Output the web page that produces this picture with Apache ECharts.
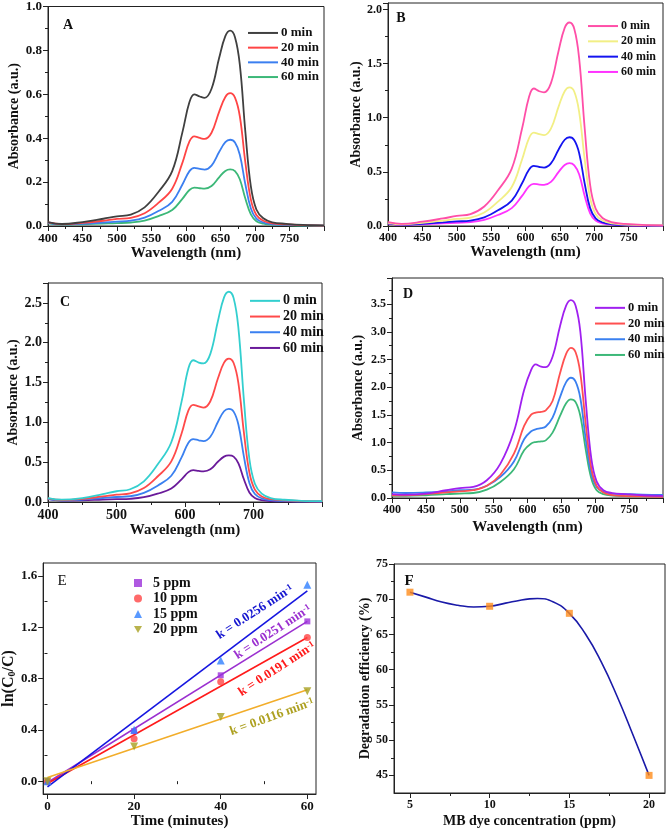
<!DOCTYPE html>
<html>
<head>
<meta charset="utf-8">
<script src="https://cdn.jsdelivr.net/npm/echarts@6/dist/echarts.min.js"></script>
<style>html,body{margin:0;padding:0;background:#fff}#c{width:666px;height:830px}</style>
</head>
<body>
<div id="c"></div>
<script>
// ---------- DATA ----------
const WL = [400, 420, 450, 480, 500, 520, 540, 560, 580, 595, 605, 612, 620, 627, 637, 648, 657, 664, 671, 678, 686, 694, 702, 712, 725, 745, 770, 800];
const TIMES = ['0 min', '20 min', '40 min', '60 min'];

const A_0  = [0.018, 0.009, 0.018, 0.033, 0.044, 0.052, 0.085, 0.155, 0.25, 0.43, 0.565, 0.600, 0.590, 0.584, 0.625, 0.765, 0.865, 0.890, 0.860, 0.735, 0.43, 0.18, 0.075, 0.035, 0.017, 0.010, 0.005, 0.003];
const A_20 = [0.016, 0.008, 0.014, 0.024, 0.032, 0.037, 0.058, 0.105, 0.17, 0.29, 0.385, 0.408, 0.401, 0.397, 0.425, 0.52, 0.588, 0.605, 0.585, 0.50, 0.29, 0.12, 0.05, 0.024, 0.012, 0.007, 0.004, 0.002];
const A_40 = [0.014, 0.007, 0.010, 0.016, 0.020, 0.024, 0.038, 0.068, 0.11, 0.19, 0.25, 0.265, 0.26, 0.257, 0.275, 0.337, 0.382, 0.393, 0.38, 0.325, 0.19, 0.08, 0.034, 0.016, 0.008, 0.005, 0.003, 0.002];
const A_60 = [0.012, 0.006, 0.008, 0.011, 0.013, 0.016, 0.025, 0.045, 0.073, 0.125, 0.164, 0.175, 0.172, 0.17, 0.182, 0.222, 0.251, 0.258, 0.25, 0.213, 0.125, 0.053, 0.022, 0.011, 0.006, 0.004, 0.002, 0.001];

const B_0  = [0.035, 0.02, 0.04, 0.07, 0.093, 0.11, 0.18, 0.33, 0.53, 0.9, 1.19, 1.27, 1.245, 1.235, 1.32, 1.615, 1.83, 1.88, 1.82, 1.55, 0.91, 0.38, 0.16, 0.074, 0.036, 0.02, 0.01, 0.006];
const B_20 = [0.03, 0.016, 0.03, 0.05, 0.065, 0.077, 0.124, 0.225, 0.36, 0.615, 0.81, 0.862, 0.848, 0.84, 0.9, 1.1, 1.245, 1.28, 1.24, 1.055, 0.62, 0.26, 0.11, 0.05, 0.025, 0.014, 0.008, 0.005];
const B_40 = [0.025, 0.013, 0.02, 0.033, 0.042, 0.05, 0.08, 0.145, 0.235, 0.395, 0.52, 0.555, 0.545, 0.54, 0.578, 0.705, 0.797, 0.82, 0.793, 0.675, 0.395, 0.165, 0.07, 0.033, 0.016, 0.009, 0.005, 0.003];
const B_60 = [0.022, 0.011, 0.016, 0.024, 0.03, 0.035, 0.056, 0.102, 0.165, 0.278, 0.366, 0.39, 0.383, 0.38, 0.407, 0.498, 0.563, 0.58, 0.56, 0.478, 0.28, 0.117, 0.05, 0.024, 0.012, 0.007, 0.004, 0.002];

const C_0  = [0.05, 0.03, 0.05, 0.1, 0.135, 0.16, 0.26, 0.47, 0.75, 1.26, 1.68, 1.78, 1.75, 1.74, 1.86, 2.27, 2.57, 2.64, 2.56, 2.18, 1.28, 0.54, 0.23, 0.105, 0.05, 0.028, 0.015, 0.01];
const C_20 = [0.045, 0.025, 0.04, 0.07, 0.092, 0.108, 0.175, 0.32, 0.51, 0.86, 1.15, 1.22, 1.2, 1.185, 1.265, 1.55, 1.75, 1.80, 1.745, 1.49, 0.87, 0.37, 0.155, 0.07, 0.035, 0.02, 0.012, 0.008];
const C_40 = [0.04, 0.02, 0.03, 0.05, 0.063, 0.072, 0.115, 0.205, 0.33, 0.56, 0.745, 0.79, 0.775, 0.765, 0.82, 1.005, 1.14, 1.17, 1.135, 0.97, 0.57, 0.24, 0.1, 0.046, 0.023, 0.013, 0.008, 0.005];
const C_60 = [0.035, 0.018, 0.02, 0.03, 0.035, 0.04, 0.06, 0.105, 0.17, 0.285, 0.375, 0.4, 0.39, 0.385, 0.41, 0.505, 0.57, 0.585, 0.57, 0.485, 0.285, 0.12, 0.05, 0.024, 0.012, 0.007, 0.004, 0.003];

const D_0  = [0.07, 0.06, 0.08, 0.14, 0.18, 0.20, 0.32, 0.62, 1.2, 1.95, 2.3, 2.41, 2.37, 2.36, 2.55, 3.10, 3.47, 3.57, 3.47, 3.00, 1.75, 0.73, 0.30, 0.14, 0.09, 0.07, 0.05, 0.04];
const D_20 = [0.05, 0.05, 0.07, 0.10, 0.12, 0.14, 0.22, 0.42, 0.80, 1.30, 1.50, 1.54, 1.555, 1.58, 1.75, 2.25, 2.60, 2.71, 2.63, 2.25, 1.33, 0.55, 0.22, 0.10, 0.05, 0.035, 0.03, 0.02];
const D_40 = [0.10, 0.09, 0.10, 0.12, 0.14, 0.15, 0.22, 0.38, 0.66, 1.06, 1.20, 1.24, 1.26, 1.29, 1.45, 1.82, 2.09, 2.17, 2.10, 1.80, 1.06, 0.45, 0.20, 0.11, 0.08, 0.07, 0.06, 0.055];
const D_60 = [0.04, 0.04, 0.05, 0.07, 0.08, 0.09, 0.15, 0.29, 0.52, 0.86, 0.98, 1.01, 1.02, 1.04, 1.18, 1.48, 1.71, 1.78, 1.73, 1.48, 0.87, 0.36, 0.14, 0.07, 0.045, 0.035, 0.03, 0.03];

const E_TIME = [0, 20, 40, 60];
const E_5PPM  = [0.0, 0.39, 0.825, 1.245];
const E_10PPM = [-0.005, 0.33, 0.775, 1.12];
const E_15PPM = [0.0, 0.40, 0.94, 1.53];
const E_20PPM = [0.0, 0.27, 0.50, 0.70];
const E_FIT_X = [0, 60];
const E_FIT_5  = [-0.01, 1.245];
const E_FIT_10 = [-0.018, 1.12];
const E_FIT_15 = [-0.045, 1.483];
const E_FIT_20 = [0.028, 0.712];
const E_LABELS = ['k = 0.0256 min', 'k = 0.0251 min', 'k = 0.0191 min', 'k = 0.0116 min'];

const F_CONC = [5, 10, 15, 20];
const F_EFF = [71, 69, 68, 45];
const F_CURVE_X = [5, 6, 7, 8, 9, 10, 11, 12, 12.5, 13, 14, 15, 16, 17, 18, 19, 20];
const F_CURVE_Y = [71, 70.3, 69.6, 69.15, 68.9, 69.0, 69.45, 69.9, 70.05, 70.1, 69.6, 68.0, 65.1, 61.1, 56.2, 50.7, 45];

// ---------- HELPERS ----------
const FONT = 'Liberation Serif';
function isObj(o){return o && typeof o === 'object' && !Array.isArray(o);}
function merge(a, b){
  const r = Object.assign({}, a);
  for (const k in b) {
    if (isObj(b[k]) && isObj(a[k])) r[k] = merge(a[k], b[k]); else r[k] = b[k];
  }
  return r;
}
function pairs(xs, ys){ return xs.map((x,i)=>[x, ys[i]]); }
const AX = {
  type: 'value',
  axisLine: {show: true, onZero: false, lineStyle: {color: '#222', width: 1}},
  axisTick: {show: true, inside: false, length: 5, lineStyle: {color: '#222', width: 1}},
  minorTick: {show: true, splitNumber: 2, length: 3, lineStyle: {color: '#222', width: 1}},
  splitLine: {show: false},
  minorSplitLine: {show: false},
  axisLabel: {color: '#111', fontFamily: FONT, fontWeight: 'bold', fontSize: 13, margin: 6},
  nameLocation: 'middle',
  nameTextStyle: {color: '#111', fontFamily: FONT, fontWeight: 'bold', fontSize: 15}
};
function ax(o){ return merge(AX, o); }
function minorAx(o){
  return merge({type:'value', axisLine:{show:false}, axisLabel:{show:false}, splitLine:{show:false},
    minorTick:{show:false}, axisTick:{show:true, inside:false, length:3, lineStyle:{color:'#222', width:1}}}, o);
}
function fmtStep(step, maxLab, dec){
  return function(v){
    const q = v/step;
    if (Math.abs(q - Math.round(q)) > 1e-6 || v > maxLab + 1e-9) return '';
    return dec ? v.toFixed(dec) : String(Math.round(v));
  };
}

const grids = [
  {left: 48, top: 4, width: 276, height: 222},
  {left: 388, top: 3, width: 276, height: 223},
  {left: 48, top: 283, width: 274, height: 219},
  {left: 392, top: 278, width: 273, height: 220},
  {left: 42, top: 563, width: 274, height: 231},
  {left: 394, top: 564, width: 271, height: 229}
].map(g => Object.assign({show: true, borderColor: '#222', borderWidth: 1, backgroundColor: 'transparent'}, g));

const xAxes = [
  ax({gridIndex:0, min:400, max:800, interval:50, name:'Wavelength (nm)', nameGap:17,
      axisLabel:{fontSize:13, formatter: fmtStep(50, 750, 0)}}),
  ax({gridIndex:1, min:400, max:800, interval:50, name:'Wavelength (nm)', nameGap:18,
      axisLabel:{fontSize:12, formatter: fmtStep(50, 750, 0)}}),
  ax({gridIndex:2, min:400, max:800, interval:100, name:'Wavelength (nm)', nameGap:20,
      axisLabel:{fontSize:14, formatter: fmtStep(100, 700, 0)}}),
  ax({gridIndex:3, min:400, max:800, interval:50, name:'Wavelength (nm)', nameGap:22,
      axisLabel:{fontSize:12, formatter: fmtStep(50, 750, 0)}}),
  ax({gridIndex:4, min:-1, max:62, name:'Time (minutes)', nameGap:20, minorTick:{show:false},
      axisTick:{customValues:[0,20,40,60]}, axisLabel:{fontSize:13, customValues:[0,20,40,60]}}),
  ax({gridIndex:5, min:4, max:21, name:'MB dye concentration (ppm)', nameGap:21, minorTick:{show:false},
      axisTick:{customValues:[5,10,15,20]}, axisLabel:{fontSize:12, customValues:[5,10,15,20]},
      nameTextStyle:{fontSize:14}}),
  minorAx({gridIndex:4, position:'bottom', min:-1, max:62, axisTick:{customValues:[10,30,50]}}),
  minorAx({gridIndex:5, position:'bottom', min:4, max:21, axisTick:{customValues:[7.5,12.5,17.5]}})
];
const yAxes = [
  ax({gridIndex:0, min:0, max:1.0, interval:0.2, name:'Absorbance (a.u.)', nameGap:24,
      axisLabel:{fontSize:13, formatter: fmtStep(0.2, 1.0, 1)}, nameTextStyle:{fontSize:14}}),
  ax({gridIndex:1, min:0, max:2.06, interval:0.5, name:'Absorbance (a.u.)', nameGap:23,
      axisLabel:{fontSize:12, formatter: fmtStep(0.5, 2.0, 1)}, nameTextStyle:{fontSize:14}}),
  ax({gridIndex:2, min:0, max:2.75, interval:0.5, name:'Absorbance (a.u.)', nameGap:25,
      axisLabel:{fontSize:14, formatter: fmtStep(0.5, 2.5, 1)}, nameTextStyle:{fontSize:14}}),
  ax({gridIndex:3, min:0, max:3.97, interval:0.5, name:'Absorbance (a.u.)', nameGap:27,
      axisLabel:{fontSize:12, formatter: fmtStep(0.5, 3.5, 1)}, nameTextStyle:{fontSize:14}}),
  ax({gridIndex:4, min:-0.1, max:1.7, name:'ln(C{s|0}/C)', nameGap:26, minorTick:{show:false},
      axisTick:{customValues:[0,0.4,0.8,1.2,1.6]},
      axisLabel:{fontSize:13, customValues:[0,0.4,0.8,1.2,1.6], formatter: v => v.toFixed(1)},
      nameTextStyle:{fontSize:16, rich:{s:{fontSize:10, fontWeight:'bold', fontFamily:FONT, color:'#111', verticalAlign:'bottom'}}}}),
  ax({gridIndex:5, min:42.5, max:75, name:'Degradation efficiency (%)', nameGap:21, minorTick:{show:false},
      axisTick:{customValues:[45,50,55,60,65,70,75]},
      axisLabel:{fontSize:12, customValues:[45,50,55,60,65,70,75]}, nameTextStyle:{fontSize:14}}),
  minorAx({gridIndex:4, position:'left', min:-0.1, max:1.7, axisTick:{customValues:[0.2,0.6,1.0,1.4]}}),
  minorAx({gridIndex:5, position:'left', min:42.5, max:75, axisTick:{customValues:[47.5,52.5,57.5,62.5,67.5,72.5]}})
];

const panels = [
  {id:'A', data:[A_0, A_20, A_40, A_60], colors:['#404040', '#ff4545', '#3b7ff0', '#3cb878']},
  {id:'B', data:[B_0, B_20, B_40, B_60], colors:['#ff4fa8', '#f2ef85', '#1414f0', '#ff33ff']},
  {id:'C', data:[C_0, C_20, C_40, C_60], colors:['#33cfcf', '#ff4a4a', '#3a80f0', '#6a1a9a']},
  {id:'D', data:[D_0, D_20, D_40, D_60], colors:['#a020f0', '#ff5050', '#3a80f0', '#3cb878']}
];

const series = [];
panels.forEach((p, pi) => {
  p.data.forEach((ys, i) => {
    series.push({
      type:'line', name: p.id + '|' + TIMES[i], xAxisIndex: pi, yAxisIndex: pi,
      data: pairs(WL, ys), smooth: 0.4, symbol:'none', showSymbol:false,
      lineStyle:{color:p.colors[i], width:1.8}, itemStyle:{color:p.colors[i]},
      z: 10 - i, silent: true, animation:false
    });
  });
});

const E_COLORS_FIT = ['#9b30d0', '#ff1a1a', '#1515e0', '#f2ad2a'];
const E_FITS = [E_FIT_5, E_FIT_10, E_FIT_15, E_FIT_20];
E_FITS.forEach((ys, i) => {
  series.push({type:'line', name:'fit' + i, xAxisIndex:4, yAxisIndex:4, data: pairs(E_FIT_X, ys),
    symbol:'none', lineStyle:{color:E_COLORS_FIT[i], width:1.6}, z:5, silent:true, animation:false});
});
const E_SER = [
  {name:'5 ppm', ys:E_5PPM, symbol:'rect', size:6, color:'#9b30d9'},
  {name:'10 ppm', ys:E_10PPM, symbol:'circle', size:7, color:'#ff4545'},
  {name:'15 ppm', ys:E_15PPM, symbol:'triangle', size:8, color:'#2f7fff'},
  {name:'20 ppm', ys:E_20PPM, symbol:'path://M0,0 L10,0 L5,9 Z', size:8, color:'#a8a020'}
];
E_SER.forEach(s => {
  series.push({type:'scatter', name:s.name, xAxisIndex:4, yAxisIndex:4, data: pairs(E_TIME, s.ys),
    symbol:s.symbol, symbolSize:s.size, itemStyle:{color:s.color}, z:8, silent:true, animation:false});
});

series.push({type:'line', name:'Fcurve', xAxisIndex:5, yAxisIndex:5, data: pairs(F_CURVE_X, F_CURVE_Y),
  smooth:0.5, symbol:'none', lineStyle:{color:'#1a1aa8', width:1.6}, z:5, silent:true, animation:false});
series.push({type:'scatter', name:'Fpts', xAxisIndex:5, yAxisIndex:5, data: pairs(F_CONC, F_EFF),
  symbol:'rect', symbolSize:7, itemStyle:{color:'#ff8c1a'}, z:8, silent:true, animation:false});

const legTxt = {color:'#111', fontFamily:FONT, fontWeight:'bold', fontSize:13};
function legend(id, left, top, lh, fs){
  return {orient:'vertical', left:left, top:top, icon:'rect', itemWidth:30, itemHeight:2, itemGap:0,
    selectedMode:false, data: TIMES.map(t => id + '|' + t), formatter: n => n.split('|')[1],
    textStyle: Object.assign({}, legTxt, {fontSize: fs, lineHeight: lh, padding:[0,0,0,-2]})};
}
const legends = [
  legend('A', 243, 20.6, 14.7, 13),
  legend('B', 583, 13.4, 15.3, 12),
  legend('C', 245, 288, 15.7, 14),
  legend('D', 590, 295, 15.7, 12.5),
  {orient:'vertical', left:129, top:571, itemWidth:8, itemHeight:8, itemGap:1.5, selectedMode:false,
   data: E_SER.map(s => s.name), textStyle: Object.assign({}, legTxt, {fontSize:14, padding:[0,0,0,6]})}
];

function txt(x, y, text, size, weight, color, rot, rich){
  const st = {text:text, fontSize:size, fontWeight:weight, fontFamily:FONT, fill:color,
    align:'center', verticalAlign:'middle', textAlign:'center', textVerticalAlign:'middle'};
  if (rich) st.rich = rich;
  return {type:'text', x:x, y:y, rotation:(rot||0)*Math.PI/180, style:st, z:100, silent:true};
}
function supRich(color){ return {s:{fontSize:9, fontWeight:'bold', fontFamily:FONT, fill:color, verticalAlign:'top'}}; }
const graphic = [
  txt(68, 25, 'A', 14, 'bold', '#111'),
  txt(401, 18, 'B', 14, 'bold', '#111'),
  txt(65, 302, 'C', 14, 'bold', '#111'),
  txt(408, 294, 'D', 14, 'bold', '#111'),
  txt(62, 581, 'E', 15, 'normal', '#111'),
  txt(409, 581, 'F', 15, 'bold', '#111'),
  txt(255, 612, E_LABELS[0] + '{s|-1}', 13, 'bold', '#1515d0', 33, supRich('#1515d0')),
  txt(273, 632, E_LABELS[1] + '{s|-1}', 13, 'bold', '#9b30d0', 33, supRich('#9b30d0')),
  txt(277, 669, E_LABELS[2] + '{s|-1}', 13, 'bold', '#ff1a1a', 33, supRich('#ff1a1a')),
  txt(272, 717, E_LABELS[3] + '{s|-1}', 13, 'bold', '#ada020', 20, supRich('#ada020'))
];

const chart = echarts.init(document.getElementById('c'), null, {renderer:'canvas'});
chart.setOption({
  backgroundColor:'#fff', animation:false,
  grid: grids, xAxis: xAxes, yAxis: yAxes, legend: legends, series: series, graphic: graphic
});
</script>
</body>
</html>
